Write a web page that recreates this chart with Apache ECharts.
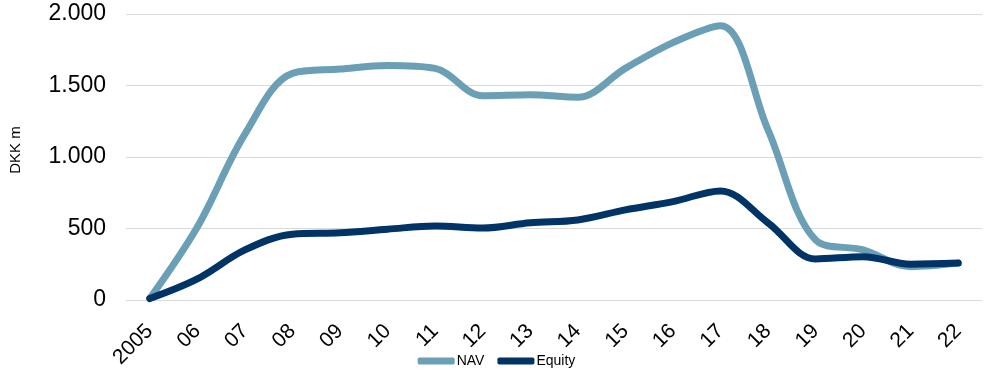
<!DOCTYPE html>
<html>
<head>
<meta charset="utf-8">
<script src="https://cdn.jsdelivr.net/npm/echarts@6/dist/echarts.min.js"></script>
<style>html,body{margin:0;padding:0;background:#fff}#c{width:993px;height:378px}</style>
</head>
<body>
<div id="c"></div>
<script>
var categories = ['2005','06','07','08','09','10','11','12','13','14','15','16','17','18','19','20','21','22'];
var navValues = [10, 510, 1160, 1585, 1615, 1640, 1620, 1428, 1435, 1418, 1620, 1800, 1918, 1190, 420, 350, 233, 258];
var equityValues = [10, 147, 350, 460, 470, 495, 518, 503, 540, 560, 630, 688, 763, 540, 287, 303, 250, 258];
var yTicks = [0, 500, 1000, 1500, 2000];
var seriesNames = ['NAV', 'Equity'];
var yAxisTitle = 'DKK m';

var chart = echarts.init(document.getElementById('c'));
function fmt(v){ return String(v).replace(/\B(?=(\d{3})+(?!\d))/g, '.'); }
var FONT = 'Liberation Sans, Arial, sans-serif';
chart.setOption({
  animation: false,
  color: ['#6A9FB5', '#003366'],
  grid: { left: 126, right: 11, top: 14, bottom: 78 },
  legend: {
    top: 349, left: 'center',
    data: seriesNames,
    icon: 'roundRect', itemWidth: 37, itemHeight: 7, itemGap: 13,
    textStyle: { fontFamily: FONT, fontSize: 14, color: '#000', padding: [0,0,0,-3] }
  },
  graphic: [{
    type: 'text', x: 8, y: 150, rotation: Math.PI / 2,
    style: { text: yAxisTitle, font: '15px ' + FONT, fill: '#000', align: 'center', verticalAlign: 'top' }
  }],
  xAxis: {
    type: 'category', data: categories, boundaryGap: true,
    axisLine: { show: false }, axisTick: { show: false },
    axisLabel: { rotate: 45, fontFamily: FONT, fontSize: 21, color: '#000', margin: 28, interval: 0 }
  },
  yAxis: {
    type: 'value', min: yTicks[0], max: yTicks[yTicks.length-1], interval: 500,
    axisLabel: { formatter: fmt, fontFamily: FONT, fontSize: 23, color: '#000', margin: 20 },
    splitLine: { lineStyle: { color: '#d9d9d9', width: 1 } },
    axisLine: { show: false }, axisTick: { show: false }
  },
  series: [
    { name: seriesNames[0], type: 'line', data: navValues, smooth: 0.35, symbol: 'none', lineStyle: { width: 7, cap: 'round' } },
    { name: seriesNames[1], type: 'line', data: equityValues, smooth: 0.35, symbol: 'none', lineStyle: { width: 7, cap: 'round' } }
  ]
});
</script>
</body>
</html>
